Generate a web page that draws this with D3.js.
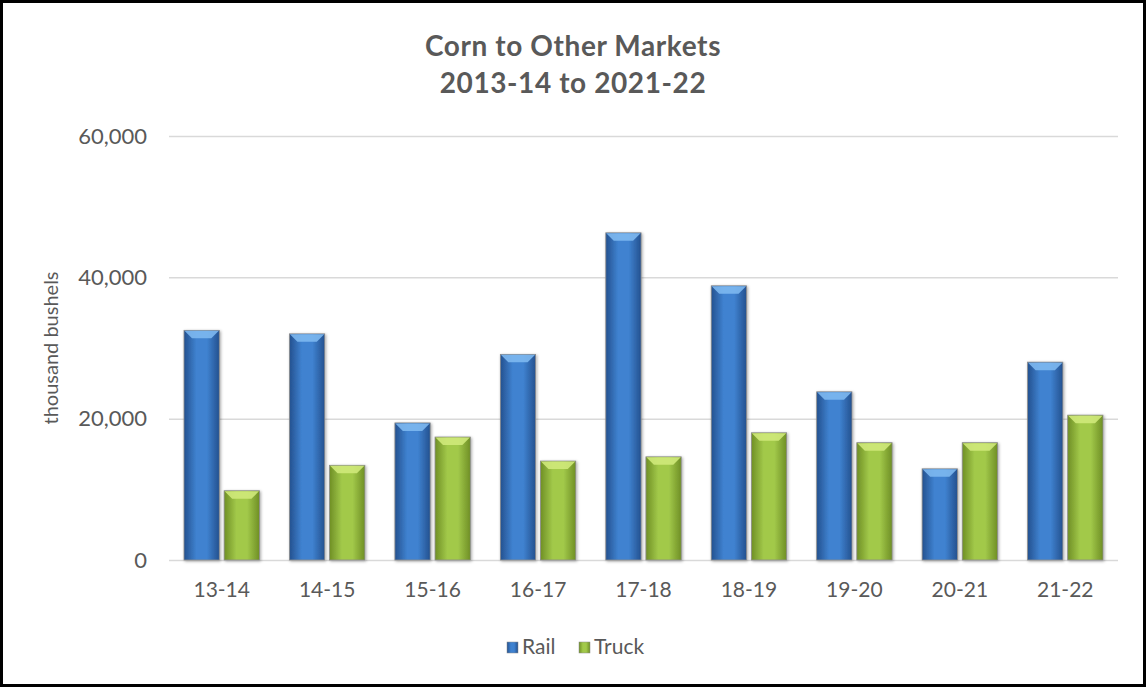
<!DOCTYPE html>
<html>
<head>
<meta charset="utf-8">
<script src="https://cdn.jsdelivr.net/npm/d3@7"></script>
<style>
  html, body { margin: 0; padding: 0; background: #fff; }
  svg { display: block; font-family: Lato, "Open Sans", sans-serif; }
</style>
</head>
<body>
<svg id="chart" width="1146" height="687"></svg>
<script>
// chart data
const seasons = ['13-14', '14-15', '15-16', '16-17', '17-18', '18-19', '19-20', '20-21', '21-22'];
const seriesNames = ['Rail', 'Truck'];
const railValues = [32500, 32000, 19400, 29100, 46300, 38800, 23800, 12900, 28000];
const truckValues = [9800, 13400, 17400, 14000, 14600, 18000, 16600, 16600, 20500];
const yTicks = [0, 20000, 40000, 60000];
const titleLines = ['Corn to Other Markets', '2013-14 to 2021-22'];

const rows = seasons.map((s, i) => ({ season: s, Rail: railValues[i], Truck: truckValues[i] }));

const W = 1146, H = 687;
const plot = { left: 169, right: 1118, top: 136, bottom: 560 };
const textColor = '#595959';

const svg = d3.select('#chart');

// gradients for the bevelled bars
const defs = svg.append('defs');
const palette = {
  Rail: { edge: '#24518f', mid: '#3f82d0', top: '#7db8f0' },
  Truck: { edge: '#6f8f25', mid: '#a2c94a', top: '#cfe97a' }
};
seriesNames.forEach(name => {
  const g = defs.append('linearGradient').attr('id', 'grad-' + name)
    .attr('x1', 0).attr('x2', 1).attr('y1', 0).attr('y2', 0);
  g.append('stop').attr('offset', '0%').attr('stop-color', palette[name].edge);
  g.append('stop').attr('offset', '35%').attr('stop-color', palette[name].mid);
  g.append('stop').attr('offset', '65%').attr('stop-color', palette[name].mid);
  g.append('stop').attr('offset', '100%').attr('stop-color', palette[name].edge);
});
const shadow = defs.append('filter').attr('id', 'shadow')
  .attr('x', '-20%').attr('y', '-10%').attr('width', '140%').attr('height', '120%');
shadow.append('feDropShadow').attr('dx', 1).attr('dy', 1).attr('stdDeviation', 1.5)
  .attr('flood-color', '#000').attr('flood-opacity', 0.35);

// frame
svg.append('rect').attr('x', 1.5).attr('y', 1.5).attr('width', W - 3).attr('height', H - 3)
  .attr('fill', '#fff').attr('stroke', '#000').attr('stroke-width', 3);

// title
svg.append('text').attr('x', 573).attr('y', 0).attr('text-anchor', 'middle')
  .attr('fill', textColor).attr('font-size', 28).attr('font-weight', 'bold')
  .attr('letter-spacing', 0.6)
  .selectAll('tspan').data(titleLines).enter().append('tspan')
  .attr('x', 573).attr('y', (d, i) => 56 + i * 37).text(d => d);

// scales
const x0 = d3.scaleBand().domain(seasons).range([plot.left, plot.right]);
const x1 = d3.scaleBand().domain(seriesNames).range([15, x0.bandwidth() - 15]).paddingInner(0.12);
const y = d3.scaleLinear().domain([0, 60000]).range([plot.bottom, plot.top]);

// gridlines + y labels
const yAxis = svg.append('g').attr('transform', `translate(${plot.left},0)`)
  .call(d3.axisLeft(y).tickValues(yTicks).tickSize(-(plot.right - plot.left)).tickFormat(d3.format(',')));
yAxis.select('.domain').remove();
yAxis.selectAll('.tick line').attr('stroke', '#d9d9d9').attr('stroke-width', 1.5);
yAxis.selectAll('.tick text').attr('x', -22).attr('fill', textColor)
  .attr('font-size', 22).attr('font-family', 'Lato, sans-serif');

// axis title
svg.append('text').attr('transform', 'translate(58,348) rotate(-90)')
  .attr('text-anchor', 'middle').attr('fill', textColor).attr('font-size', 20)
  .text('thousand bushels');

// x labels
const xAxis = svg.append('g').attr('transform', `translate(0,${plot.bottom})`)
  .call(d3.axisBottom(x0).tickSize(0).tickPadding(22));
xAxis.select('.domain').remove();
xAxis.selectAll('.tick text').attr('fill', textColor).attr('font-size', 21)
  .attr('font-family', 'Lato, sans-serif');

// bars
const groups = svg.append('g').selectAll('g').data(rows).enter().append('g')
  .attr('transform', d => `translate(${x0(d.season)},0)`);

const bars = groups.selectAll('g.bar')
  .data(d => seriesNames.map(k => ({ key: k, value: d[k] })))
  .enter().append('g').attr('class', 'bar');

bars.append('rect')
  .attr('x', d => x1(d.key))
  .attr('y', d => y(d.value))
  .attr('width', x1.bandwidth())
  .attr('height', d => y(0) - y(d.value))
  .attr('fill', d => `url(#grad-${d.key})`)
  .attr('stroke', '#8c8c8c').attr('stroke-width', 0.8)
  .attr('filter', 'url(#shadow)');

// lighter chevron on top of each bar
bars.append('path')
  .attr('d', d => {
    const bx = x1(d.key), bw = x1.bandwidth(), by = y(d.value), b = 8;
    return `M${bx + 0.5},${by + 0.5}L${bx + bw - 0.5},${by + 0.5}L${bx + bw - b},${by + b}L${bx + b},${by + b}Z`;
  })
  .attr('fill', d => palette[d.key].top).attr('opacity', 0.9);

// legend
const legendItems = [{ key: 'Rail', x: 507 }, { key: 'Truck', x: 579 }];
const legend = svg.append('g').selectAll('g').data(legendItems).enter().append('g')
  .attr('transform', d => `translate(${d.x},642)`);
legend.append('rect').attr('width', 11).attr('height', 11)
  .attr('fill', d => `url(#grad-${d.key})`).attr('stroke', '#8c8c8c').attr('stroke-width', 0.5);
legend.append('text').attr('x', 15).attr('y', 12).attr('fill', textColor)
  .attr('font-size', 21).text(d => d.key);
</script>
</body>
</html>
